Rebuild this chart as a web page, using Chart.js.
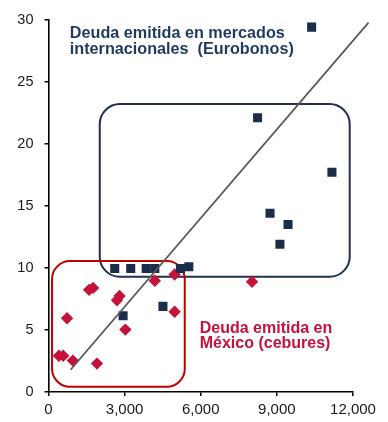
<!DOCTYPE html>
<html>
<head>
<meta charset="utf-8">
<script src="https://cdn.jsdelivr.net/npm/chart.js@4/dist/chart.umd.min.js"></script>
<style>
  html, body { margin: 0; padding: 0; background: #fff; }
  #wrap { width: 388px; height: 422px; }
</style>
</head>
<body>
<div id="wrap"><canvas id="c" width="388" height="422"></canvas></div>
<script>
// Eurobonos (navy squares)
const euroX = [10370, 8240, 11170, 8730, 9440, 9120, 2610, 3240, 3850, 4190, 5200, 5530, 4510, 2940];
const euroY = [29.4, 22.1, 17.7, 14.4, 13.5, 11.9, 9.95, 9.95, 9.95, 9.95, 9.95, 10.1, 6.9, 6.15];
// Cebures (red diamonds)
const cebX = [410, 580, 960, 1910, 730, 1600, 1760, 2700, 2800, 3030, 4190, 4970, 4970, 8020];
const cebY = [2.92, 2.92, 2.53, 2.29, 5.94, 8.23, 8.39, 7.39, 7.73, 5.03, 8.97, 9.47, 6.47, 8.88];
// Trend line
const trendX = [870, 12610];
const trendY = [1.79, 29.76];
// Tick labels
const xTickValues = [0, 3000, 6000, 9000, 12000];
const xTickLabels = ['0', '3,000', '6,000', '9,000', '12,000'];
const yTickValues = [0, 5, 10, 15, 20, 25, 30];
const yTickLabels = ['0', '5', '10', '15', '20', '25', '30'];
// Group boxes (data ranges)
const euroBox = { x: [2020, 11870], y: [9.29, 23.2] };
const cebBox = { x: [140, 5370], y: [0.42, 10.55] };
// Annotation texts
const euroText = ['Deuda emitida en mercados', 'internacionales  (Eurobonos)'];
const cebText = ['Deuda emitida en', 'México (cebures)'];

const NAVY = '#1c2d4a';
const RED = '#c4123a';

function toPts(xs, ys) { return xs.map((x, i) => ({ x: x, y: ys[i] })); }

const boxPlugin = {
  id: 'boxes',
  beforeDatasetsDraw(chart) {
    const ctx = chart.ctx, sx = chart.scales.x, sy = chart.scales.y;
    function rr(box, r, color) {
      const x1 = sx.getPixelForValue(box.x[0]), x2 = sx.getPixelForValue(box.x[1]);
      const y1 = sy.getPixelForValue(box.y[1]), y2 = sy.getPixelForValue(box.y[0]);
      ctx.save();
      ctx.beginPath();
      ctx.roundRect(x1, y1, x2 - x1, y2 - y1, r);
      ctx.lineWidth = 2;
      ctx.strokeStyle = color;
      ctx.stroke();
      ctx.restore();
    }
    rr(euroBox, 20, '#1f3050');
    rr(cebBox, 18, '#c00000');
  },
  afterDraw(chart) {
    const ctx = chart.ctx, sx = chart.scales.x, sy = chart.scales.y;
    ctx.save();
    ctx.textBaseline = 'alphabetic';
    ctx.textAlign = 'left';
    ctx.font = "bold 16.2px 'Liberation Sans', Arial, sans-serif";
    ctx.fillStyle = '#1f3a5f';
    const ex = sx.getPixelForValue(840);
    ctx.fillText(euroText[0], ex, sy.getPixelForValue(28.52));
    ctx.fillText(euroText[1], ex, sy.getPixelForValue(27.2));
    ctx.font = "bold 16px 'Liberation Sans', Arial, sans-serif";
    ctx.fillStyle = '#c8103c';
    const cx = sx.getPixelForValue(5960);
    ctx.fillText(cebText[0], cx, sy.getPixelForValue(4.76));
    ctx.fillText(cebText[1], cx, sy.getPixelForValue(3.53));
    ctx.restore();
  }
};

Chart.defaults.font.family = "'Liberation Sans', Arial, sans-serif";

new Chart(document.getElementById('c'), {
  type: 'scatter',
  data: {
    datasets: [
      {
        type: 'line',
        label: 'Tendencia',
        data: toPts(trendX, trendY),
        borderColor: '#595959',
        borderWidth: 1.8,
        pointRadius: 0,
        fill: false,
        clip: false,
        order: 0
      },
      {
        label: 'Eurobonos',
        data: toPts(euroX, euroY),
        pointStyle: 'rect',
        pointRadius: 6.4,
        pointHoverRadius: 6.4,
        backgroundColor: NAVY,
        borderWidth: 0,
        order: 1
      },
      {
        label: 'Cebures',
        data: toPts(cebX, cebY),
        pointStyle: 'rectRot',
        pointRadius: 6.2,
        pointHoverRadius: 6.2,
        backgroundColor: RED,
        borderWidth: 0,
        order: 2
      }
    ]
  },
  options: {
    responsive: false,
    animation: false,
    devicePixelRatio: 1,
    layout: { padding: { top: 12, right: 35, bottom: 0, left: 0 } },
    plugins: { legend: { display: false }, tooltip: { enabled: false } },
    scales: {
      x: {
        type: 'linear',
        min: 0, max: 12000,
        afterBuildTicks(scale) { scale.ticks = xTickValues.map(v => ({ value: v })); },
        afterFit(scale) { scale.height = 30; },
        ticks: {
          callback: (v) => xTickLabels[xTickValues.indexOf(v)],
          color: '#1a1a1a',
          font: { size: 15 },
          padding: 5,
          maxRotation: 0
        },
        grid: { display: true, drawOnChartArea: false, drawTicks: true, tickLength: 4, color: '#000', lineWidth: 1.5 },
        border: { display: true, color: '#000', width: 1.6 }
      },
      y: {
        type: 'linear',
        min: 0, max: 30,
        afterBuildTicks(scale) { scale.ticks = yTickValues.map(v => ({ value: v })); },
        afterFit(scale) { scale.width = 48.5; },
        ticks: {
          callback: (v) => yTickLabels[yTickValues.indexOf(v)],
          color: '#1a1a1a',
          font: { size: 14.5 },
          padding: 11
        },
        grid: { display: true, drawOnChartArea: false, drawTicks: true, tickLength: 4, color: '#000', lineWidth: 1.5 },
        border: { display: true, color: '#000', width: 1.6 }
      }
    }
  },
  plugins: [boxPlugin]
});
</script>
</body>
</html>
